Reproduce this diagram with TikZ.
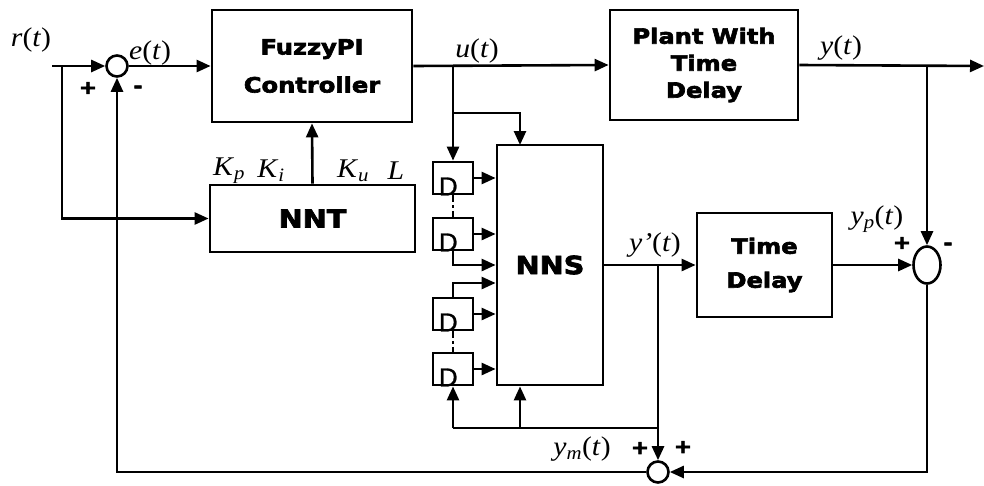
\documentclass[tikz,border=0pt]{standalone}
\usepackage{fontspec}
\setmainfont{Liberation Serif}[FakeStretch=1.1]
\newfontfamily\heavy{DejaVu Sans}[FakeStretch=1.15,BoldFeatures={FakeBold=3}]
\newfontfamily\plainsans{Liberation Sans}[FakeBold=1]
\usetikzlibrary{arrows.meta,shapes.geometric}
\begin{document}
\begin{tikzpicture}[x=1pt,y=-1pt,line width=2.6pt,>={Triangle[length=14pt,width=12pt]},
  blk/.style={draw,rectangle,line width=2.8pt,inner sep=0pt,align=center,font=\heavy\bfseries\fontsize{21}{24}\selectfont},
  bigtxt/.style={font=\heavy\bfseries\fontsize{25}{28}\selectfont},
  sumc/.style={draw,circle,minimum size=21pt,inner sep=0pt,line width=2.6pt},
  dbox/.style={draw,rectangle,minimum width=40pt,minimum height=32pt,inner sep=0pt,line width=2.8pt},
  dlet/.style={font=\plainsans\fontsize{26}{26}\selectfont,inner sep=0pt,anchor=base west,xshift=6pt},
  lab/.style={font=\fontsize{27}{29}\selectfont,inner sep=0pt},
  sgn/.style={font=\heavy\bfseries\fontsize{19}{19}\selectfont,inner sep=0pt},
  dd/.style={line width=2.2pt,dash pattern=on 7pt off 3pt on 2.5pt off 3pt}]
\useasboundingbox (0,0) rectangle (984,485);
% blocks
\node[sumc] (s1) at (117,66) {};
\node[blk,minimum width=200pt,minimum height=112pt] (fz) at (312,66) {FuzzyPI\\[14pt]Controller};
\node[blk,minimum width=188pt,minimum height=110pt] (pl) at (704,65) {Plant With\\[3pt]Time\\[3pt]Delay};
\node[blk,bigtxt,minimum width=205pt,minimum height=67pt] (nnt) at (312.5,218.5) {NNT};
\node[blk,bigtxt,minimum width=106pt,minimum height=240pt] (nns) at (550,265) {NNS};
\node[blk,minimum width=135pt,minimum height=104pt] (td) at (764.5,265) {Time\\[10pt]Delay};
\node[draw,ellipse,minimum width=27pt,minimum height=37pt,inner sep=0pt,line width=2.6pt] (s2) at (927,265) {};
\node[sumc] (s3) at (658,472) {};
\node[dbox] (d1) at (453,178) {};
\node[dbox] (d2) at (453,234) {};
\node[dbox] (d3) at (453,314) {};
\node[dbox] (d4) at (453,369) {};
\node[dlet] (dl1) at (d1.south west) {D};
\node[dlet] (dl2) at (d2.south west) {D};
\node[dlet] (dl3) at (d3.south west) {D};
\node[dlet] (dl4) at (d4.south west) {D};
% coordinates
\coordinate (rin) at (52,66);
\coordinate (rbr) at (62,66);
\coordinate (ubr) at (453,66);
\coordinate (ubr2) at (453,113);
\coordinate (nnsin) at (520,145);
\coordinate (yout) at (984,66);
\coordinate (ybr) at (927,66);
\coordinate (ypb) at (658,265);
\coordinate (yml) at (453,428);
\coordinate (ymm) at (520,428);
\coordinate (ymr) at (658,428);
% connectors
\draw[->] (rin) -- (s1);
\draw[->] (rbr) |- (nnt.west);
\draw[->] (s1) -- (fz.west);
\draw[->] (fz.east) -- (pl.west);
\draw[->] (ubr) -- (d1.north);
\draw[->] (ubr2) -| (nnsin);
\draw[->] (pl.east) -- (yout);
\draw[->] (ybr) -- (s2.north);
\draw[->] (nnt.north) -- (fz.south);
\foreach \d in {d1,d2,d3,d4} {\draw[->] (\d.east) -- (\d.east -| nns.west);}
\draw[dd] (d1.south) -- (d2.north);
\draw[dd] (d3.south) -- (d4.north);
\draw[->] (d2.south) |- (nns.west);
\draw[->] (d3.north) |- ([yshift=-18pt]nns.west);
\draw[->] (nns.east) -- (td.west);
\draw[->] (ypb) -- (s3.north);
\draw (ymr) -- (yml);
\draw[->] (yml) -- (d4.south);
\draw[->] (ymm) -- (ymm |- nns.south);
\draw[->] (td.east) -- (s2.west);
\draw[->] (s2.south) |- (s3.east);
\draw[->] (s3.west) -| (s1.south);
% labels
\node[lab] (lr) at (31,40) {\textit{r}(\textit{t})};
\node[lab] (le) at (150,53) {\textit{e}(\textit{t})};
\node[lab] (lu) at (477,51) {\textit{u}(\textit{t})};
\node[lab] (ly) at (841,48) {\textit{y}(\textit{t})};
\node[lab] (lkp) at (229,171) {\textit{K}\textsubscript{\textit{p}}};
\node[lab] (lki) at (271,171) {\textit{K}\textsubscript{\textit{i}}};
\node[lab] (lku) at (353,171) {\textit{K}\textsubscript{\textit{u}}};
\node[lab] (ll) at (396,171) {\textit{L}};
\node[lab] (lyd) at (655,245) {\textit{y'}(\textit{t})};
\node[lab] (lyp) at (877,219) {\textit{y}\textsubscript{\textit{p}}(\textit{t})};
\node[lab] (lym) at (582,449) {\textit{y}\textsubscript{\textit{m}}(\textit{t})};
\node[sgn] (p1) at (88,88) {+};
\node[sgn] (m1) at (138,89) {-};
\node[sgn] (p2) at (902,243) {+};
\node[sgn] (m2) at (948,246) {-};
\node[sgn] (p3) at (640,448) {+};
\node[sgn] (p4) at (683,447) {+};
\end{tikzpicture}
\end{document}
